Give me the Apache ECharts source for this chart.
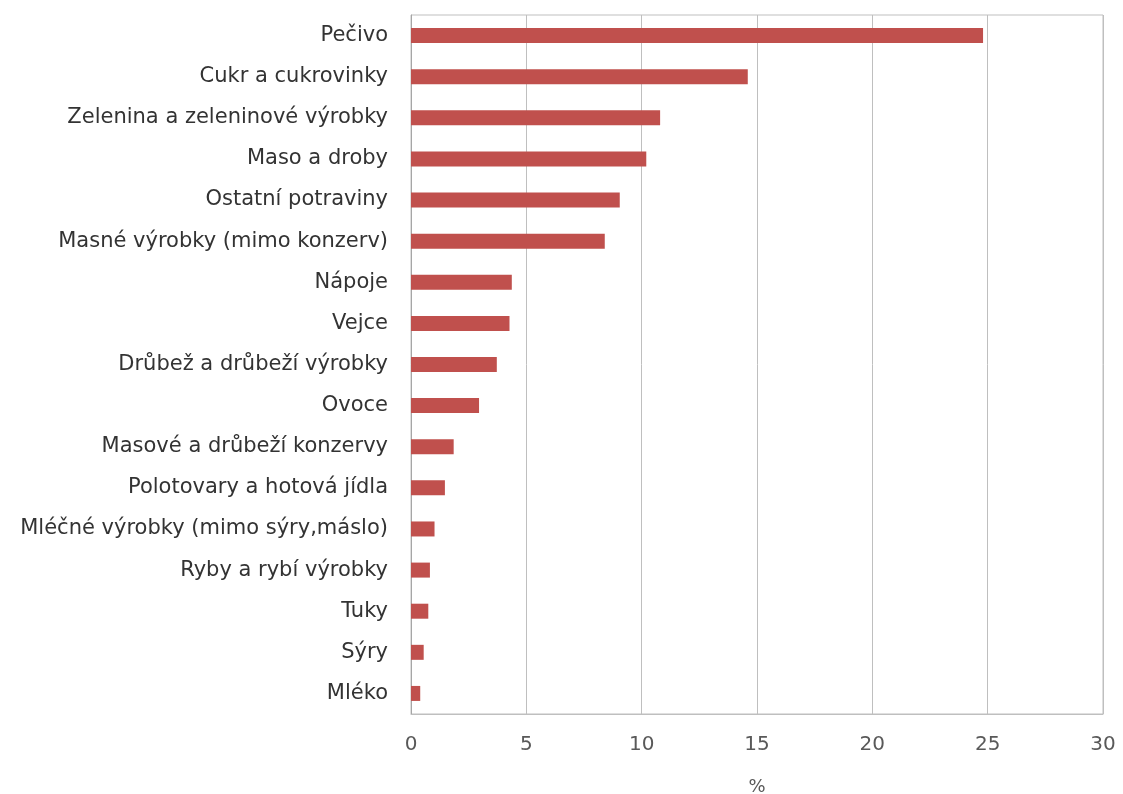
<!DOCTYPE html>
<html>
<head>
<meta charset="utf-8">
<script src="https://cdn.jsdelivr.net/npm/echarts@6/dist/echarts.min.js"></script>
<style>
html,body{margin:0;padding:0;background:#fff;}
#chart{width:1123px;height:794px;}
</style>
</head>
<body>
<div id="chart"></div>
<script>
const categories = [
  "Pečivo",
  "Cukr a cukrovinky",
  "Zelenina a zeleninové výrobky",
  "Maso a droby",
  "Ostatní potraviny",
  "Masné výrobky (mimo konzerv)",
  "Nápoje",
  "Vejce",
  "Drůbež a drůbeží výrobky",
  "Ovoce",
  "Masové a drůbeží konzervy",
  "Polotovary a hotová jídla",
  "Mléčné výrobky (mimo sýry,máslo)",
  "Ryby a rybí výrobky",
  "Tuky",
  "Sýry",
  "Mléko"
];
const values = [24.8, 14.6, 10.8, 10.2, 9.05, 8.4, 4.37, 4.27, 3.72, 2.95, 1.85, 1.47, 1.02, 0.82, 0.75, 0.55, 0.4];
const xTicks = [0, 30, 5];

const chart = echarts.init(document.getElementById('chart'));
const font = '"DejaVu Sans", sans-serif';
chart.setOption({
  animation: false,
  backgroundColor: '#ffffff',
  grid: {
    left: 411, right: 20, top: 15, bottom: 80,
    outerBoundsMode: 'none',
    containLabel: false,
    show: true, borderColor: '#bfbfbf', borderWidth: 1
  },
  xAxis: {
    type: 'value',
    min: xTicks[0], max: xTicks[1], interval: xTicks[2],
    name: '%',
    nameLocation: 'middle',
    nameGap: 64,
    nameTextStyle: { fontFamily: font, fontSize: 18, color: '#595959' },
    axisLine: { show: true, lineStyle: { color: '#bfbfbf' } },
    axisTick: { show: false },
    axisLabel: { fontFamily: font, fontSize: 20, color: '#595959', margin: 21 },
    splitLine: { show: true, lineStyle: { color: '#bfbfbf', width: 1 } }
  },
  yAxis: {
    type: 'category',
    data: categories,
    inverse: true,
    axisLine: { show: true, lineStyle: { color: '#a6a6a6' } },
    axisTick: { show: false },
    axisLabel: { fontFamily: font, fontSize: 21, color: '#333333', margin: 23 },
    splitLine: { show: false }
  },
  series: [{
    type: 'bar',
    data: values,
    barWidth: 15,
    itemStyle: { color: '#c0504d' }
  }]
});
</script>
</body>
</html>
